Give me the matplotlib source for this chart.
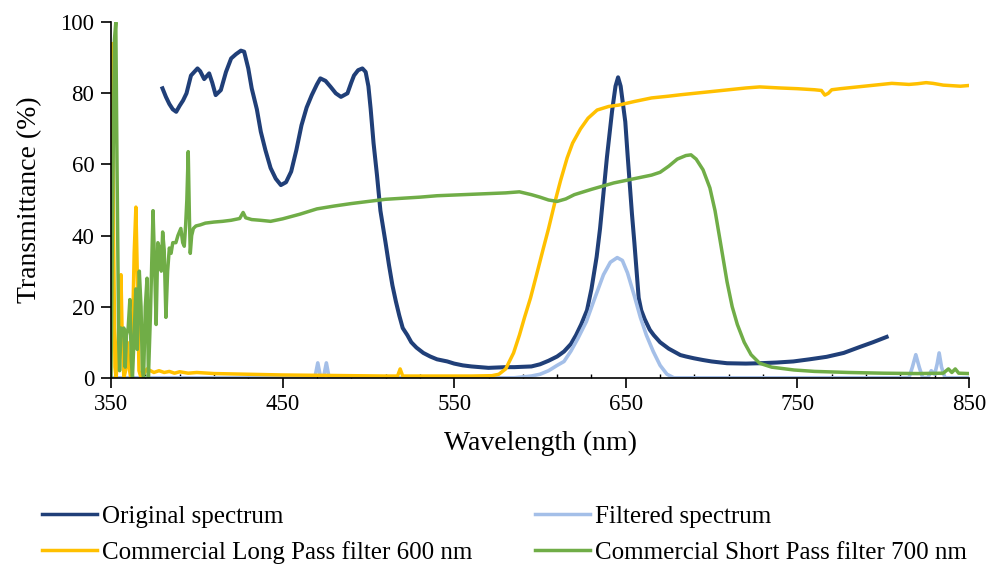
import matplotlib
matplotlib.use("Agg")
import matplotlib.pyplot as plt

plt.rcParams['font.family'] = ['Liberation Serif', 'DejaVu Serif']

# Original spectrum (nm, %)
orig_nm = [380, 382, 384, 386, 388, 390, 392, 394, 396.6, 400.4, 402, 404.3, 407.2, 409, 411, 414,
           417, 420, 422.8, 425.7, 427.6, 430, 432, 435, 437.3, 440, 443, 446, 449, 452, 455, 458,
           461, 464, 467, 470, 472, 475, 478, 481, 484, 487.8, 490, 491.6, 494, 496.5, 498.4, 500,
           501.3, 503, 505, 507, 510, 512, 514, 516, 518, 520, 522.7, 525, 528, 532, 536, 540, 546,
           550, 555, 560, 565, 570, 575, 580, 585, 590, 595, 600, 605, 610, 614, 618, 621, 624, 627.4,
           630, 633, 635, 637, 639, 642, 644, 645.5, 647, 649.7, 651, 653.6, 655, 657.5, 659, 661,
           664, 666.3, 670, 675, 681.8, 685, 689.6, 695, 700, 709, 720, 728, 738, 747.6, 757, 767,
           777, 786.5, 794, 802]
orig_t = [81.4, 79, 77, 75.5, 74.8, 76.5, 78, 80, 85, 87, 86.2, 84, 85.6, 83, 79.5, 80.9,
          86, 89.8, 91, 92, 91.7, 87, 81.4, 75.5, 69.2, 64, 59, 56, 54.2, 55, 58, 64,
          71, 76, 79.5, 82.5, 84.2, 83.5, 81.8, 80, 79, 80, 83, 85, 86.5, 87, 86, 82,
          75.7, 66, 57, 47, 38, 31.7, 26, 21.5, 17.5, 14, 12, 10, 8.5, 7, 6, 5.2, 4.6,
          4, 3.5, 3.2, 3, 2.8, 2.9, 3, 3, 3.1, 3.2, 3.8, 4.8, 6, 7.4, 9.5, 12, 15, 19,
          25, 34, 42, 52, 62, 75, 82, 84.5, 82, 72, 63, 46, 38, 22.5, 19, 16.5,
          13.5, 12, 10, 8.2, 6.4, 6, 5.5, 5, 4.6, 4.1, 4, 4.1, 4.3, 4.6, 5.2, 5.9,
          7, 8.7, 10, 11.5]

# Filtered spectrum
filt_nm = [350, 465, 469, 470.5, 472, 474, 475.5, 477, 479, 585, 595, 600, 605, 610, 614, 618,
           622, 627, 632, 637, 641, 645, 648, 651, 655, 658.5, 662, 666, 670, 674, 678, 815,
           817, 819, 821, 823, 826, 828, 830, 831.5, 832.6, 834, 836, 850]
filt_t = [0, 0, 0.5, 4.2, 0.5, 0.5, 4.2, 0.3, 0, 0, 0.5, 1, 2, 3.5, 4.6, 7.5,
          11, 15.8, 22.5, 29, 32.5, 33.8, 33, 29.5, 23, 17, 12, 7.4, 3.5, 1, 0, 0,
          3, 6.5, 3, 0, 0, 2, 1, 4, 7, 3, 0, 0]

# Commercial Long Pass filter 600 nm
lp_nm = [350, 350.7, 351.5, 352.3, 353, 354, 355, 355.8, 356.6, 357.5, 358.5, 359.5, 360.5, 361.5,
         362.5, 363.5, 364.5, 365.3, 366.3, 367.5, 369, 371, 373, 375, 378, 381, 384, 387, 390,
         395, 400, 410, 420, 430, 440, 450, 470, 490, 510, 517, 518.5, 520, 540, 560, 572, 576,
         580, 584.6, 588, 591, 594.5, 598, 602, 605, 609, 612, 615.8, 619, 623.6, 628, 633.3, 640,
         646, 655, 665, 675, 682, 690, 700, 710, 720, 728, 740, 750, 760, 764, 766, 768, 770,
         775, 785, 795, 805, 815, 820, 825, 829, 835, 845, 850]
lp_t = [50, 94, 40, 3, 0, 8, 20, 29, 10, 0, 2, 10, 3, 0,
        12, 35, 48, 30, 2, 0, 1, 2.5, 2, 1.5, 2, 1.5, 1.8, 1.3, 1.7,
        1.3, 1.5, 1.2, 1.1, 1.0, 0.9, 0.8, 0.7, 0.6, 0.5, 0.5, 2.5, 0.5, 0.5, 0.5, 0.6, 1,
        2.5, 7, 12, 17, 22.5, 29, 36.5, 42, 50, 55.5, 61.8, 66, 70, 73, 75.3, 76.3,
        76.7, 77.7, 78.7, 79.2, 79.6, 80, 80.5, 81, 81.5, 81.8, 81.5, 81.3, 81, 80.8, 79.5, 80, 81,
        81.3, 81.8, 82.3, 82.8, 82.5, 82.7, 83, 82.8, 82.3, 82, 82.2]

# Commercial Short Pass filter 700 nm
sp_nm = [350, 351, 352, 352.8, 353.5, 354.5, 355, 355.8, 356.5, 357.5, 358.3, 359, 360, 361,
         361.8, 362.5, 363.5, 364.5, 365.3, 366.5, 367.5, 368.3, 369, 370, 371, 371.8, 373, 374.5,
         375.5, 376.3, 377.3, 378.5, 379.3, 380.1, 381, 382, 383, 384, 385, 386, 387.8, 389,
         390.7, 391.8, 392.7, 393.5, 394.2, 395, 395.7, 396.2, 397, 398, 399.5, 402, 405, 410,
         415, 420, 425, 427, 428.5, 432, 437, 443, 450, 460, 470, 480, 490, 500, 510, 520, 530,
         540, 555, 570, 580, 588, 595, 600, 605, 610, 615, 620, 630, 643, 655, 665, 670, 675,
         680, 685, 688, 691, 695, 699, 702, 705, 709, 712, 715, 719, 723, 728, 735, 748, 760,
         780, 800, 820, 835, 838, 840, 842, 844, 850]
sp_t = [0, 50, 95, 100, 60, 10, 2, 14, 12, 14, 3, 12, 14, 22,
        5, 0, 12, 25, 8, 30, 20, 2, 0, 20, 28, 0, 18, 47,
        30, 15, 38, 36, 30, 41, 36, 17, 30, 36.5, 35, 38, 38, 40,
        42, 38, 37, 43, 50, 63.6, 45, 35, 40, 42, 42.7, 43, 43.5, 43.8,
        44, 44.3, 44.8, 46.5, 45, 44.5, 44.3, 44, 44.7, 46, 47.5, 48.3, 49, 49.6, 50.2, 50.5, 50.8,
        51.2, 51.5, 51.8, 52, 52.3, 51.5, 50.8, 50, 49.6, 50.3, 51.5, 53, 54.8, 56, 57, 57.8, 59.5,
        61.5, 62.5, 62.7, 61.5, 58.5, 53.4, 47, 38.5, 27, 20, 15, 10, 6.5, 4.1, 3, 2.2, 1.8,
        1.5, 1.3, 1.2, 1.3, 2.5, 1.5, 2.5, 1.3, 1.2]

x_ticks = [350, 450, 550, 650, 750, 850]
x_minor = list(range(350, 851, 20))
y_ticks = [0, 20, 40, 60, 80, 100]

fig = plt.figure(figsize=(10, 5.69), dpi=100)
ax = fig.add_axes([0.111, 0.336, 0.858, 0.625])

l1, = ax.plot(orig_nm, orig_t, color='#203F78', lw=2.9, label='Original spectrum')
l2, = ax.plot(filt_nm, filt_t, color='#A4BFE8', lw=2.6, label='Filtered spectrum')
l3, = ax.plot(lp_nm, lp_t, color='#FFC000', lw=2.5, label='Commercial Long Pass filter 600 nm')
l4, = ax.plot(sp_nm, sp_t, color='#70AD47', lw=2.5, label='Commercial Short Pass filter 700 nm')

ax.set_xlim(350, 850)
ax.set_ylim(0, 100)
ax.set_xticks(x_ticks)
ax.set_xticks(x_minor, minor=True)
ax.set_yticks(y_ticks)
ax.tick_params(axis='both', which='major', direction='out', length=7, width=1.2,
               labelsize=16.5, pad=5)
ax.tick_params(axis='x', which='minor', direction='in', length=3, width=1)
for s in ['top', 'right']:
    ax.spines[s].set_visible(False)
for s in ['left', 'bottom']:
    ax.spines[s].set_linewidth(1.2)

ax.set_xlabel('Wavelength (nm)', fontsize=20)
ax.set_ylabel('Transmittance (%)', fontsize=20)
ax.xaxis.set_label_coords(0.5, -0.15)
ax.yaxis.set_label_coords(-0.08, 0.5)

kw = dict(loc='upper left', frameon=False, fontsize=18, handlelength=2.2,
          handletextpad=0.2, labelspacing=0.55, borderpad=0, borderaxespad=0)
leg1 = fig.legend(handles=[l1, l3], **kw)
leg1.set_bbox_to_anchor((0.042, 1 - 505 / 569), transform=fig.transFigure)
leg2 = fig.legend(handles=[l2, l4], **kw)
leg2.set_bbox_to_anchor((0.535, 1 - 505 / 569), transform=fig.transFigure)
for leg in (leg1, leg2):
    for h in leg.legend_handles:
        h.set_linewidth(2.5)

fig.savefig('out.png', dpi=100)
